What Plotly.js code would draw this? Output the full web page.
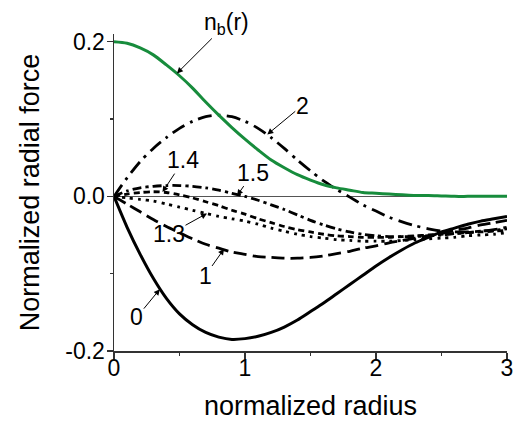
<!DOCTYPE html>
<html>
<head>
<meta charset="utf-8">
<script src="https://cdn.plot.ly/plotly-3.0.1.min.js"></script>
<style>html,body{margin:0;padding:0;background:#fff;}#chart{width:515px;height:421px;}</style>
</head>
<body>
<div id="chart"></div>
<script>
// normalized radius
const radius = [0,0.1,0.2,0.3,0.4,0.5,0.6,0.7,0.8,0.9,1.0,1.1,1.2,1.3,1.4,1.5,1.6,1.7,1.8,1.9,2.0,2.1,2.2,2.3,2.4,2.5,2.6,2.7,2.8,2.9,3.0];
// beam density profile n_b(r)
const nb = [0.200,0.198,0.192,0.183,0.170,0.156,0.140,0.122,0.105,0.089,0.074,0.060,0.047,0.037,0.028,0.021,0.015,0.011,0.008,0.005,0.004,0.003,0.002,0.001,0.001,0.0005,0,0,0,0,0];
// normalized radial force for each parameter value
const f0 = [0,-0.040,-0.075,-0.106,-0.132,-0.152,-0.166,-0.176,-0.182,-0.185,-0.184,-0.181,-0.176,-0.169,-0.160,-0.149,-0.138,-0.126,-0.114,-0.102,-0.090,-0.079,-0.069,-0.060,-0.053,-0.046,-0.041,-0.036,-0.032,-0.029,-0.026];
const f1 = [0,-0.010,-0.020,-0.030,-0.039,-0.047,-0.055,-0.062,-0.067,-0.072,-0.075,-0.078,-0.079,-0.080,-0.080,-0.079,-0.077,-0.074,-0.071,-0.067,-0.064,-0.060,-0.057,-0.054,-0.051,-0.048,-0.044,-0.041,-0.037,-0.034,-0.031];
const f13 = [0,-0.002,-0.004,-0.006,-0.010,-0.014,-0.018,-0.022,-0.026,-0.029,-0.032,-0.036,-0.041,-0.045,-0.049,-0.052,-0.054,-0.056,-0.057,-0.058,-0.058,-0.058,-0.057,-0.056,-0.055,-0.054,-0.053,-0.051,-0.050,-0.049,-0.047];
const f14 = [0,0.003,0.005,0.006,0.005,0.002,-0.002,-0.007,-0.012,-0.018,-0.023,-0.029,-0.034,-0.039,-0.043,-0.046,-0.049,-0.051,-0.052,-0.053,-0.053,-0.053,-0.052,-0.051,-0.050,-0.049,-0.048,-0.047,-0.046,-0.045,-0.044];
const f15 = [0,0.007,0.011,0.013,0.014,0.014,0.013,0.011,0.008,0.004,0.000,-0.005,-0.011,-0.017,-0.024,-0.031,-0.037,-0.042,-0.046,-0.049,-0.051,-0.052,-0.052,-0.052,-0.051,-0.050,-0.048,-0.047,-0.045,-0.044,-0.042];
const f2 = [0,0.024,0.045,0.062,0.076,0.088,0.097,0.103,0.105,0.103,0.097,0.088,0.076,0.062,0.047,0.033,0.020,0.009,-0.001,-0.011,-0.019,-0.027,-0.033,-0.038,-0.042,-0.045,-0.046,-0.046,-0.045,-0.043,-0.040];

const xTickVals = [0,1,2,3];
const xTickText = ['0','1','2','3'];
const xMinorVals = [0.5,1.5,2.5];
const yTickVals = [-0.2,0,0.2];
const yTickText = ['-0.2','0.0','0.2'];
const yMinorVals = [-0.1,0.1];

// annotation labels: [text, tip x, tip y, label offset x(px), label offset y(px)]
const labels = [
  ['n<sub>b</sub>(r)', 0.48, 0.159, 50, -50],
  ['2', 1.17, 0.080, 35, -29],
  ['1.4', 0.37, 0.0055, 21, -32],
  ['1.5', 0.94, 0.001, 16, -23],
  ['1.3', 0.71, -0.022, -38, 21],
  ['1', 0.84, -0.068, -19, 27],
  ['0', 0.35, -0.120, -23, 28]
];

const FONT = 'Liberation Sans, Arial, sans-serif';
function tr(y, dash, color, width) {
  return {x: radius, y: y, type: 'scatter', mode: 'lines',
    line: {color: color, width: width, dash: dash, shape: 'spline', smoothing: 0.8},
    hoverinfo: 'skip', showlegend: false};
}
const data = [
  tr(f0, 'solid', '#000', 3),
  tr(f1, '13px,6px', '#000', 2.8),
  tr(f13, '3px,5px', '#000', 2.8),
  tr(f14, '6px,4px', '#000', 2.8),
  tr(f15, '9px,4px,3px,4px', '#000', 2.8),
  tr(f2, '14px,6px,3px,6px', '#000', 2.8),
  tr(nb, 'solid', '#178c3c', 3)
];

const annotations = labels.map(l => ({
  x: l[1], y: l[2], xref: 'x', yref: 'y', text: l[0],
  showarrow: true, ax: l[3], ay: l[4], axref: 'pixel', ayref: 'pixel',
  arrowhead: 2, arrowsize: 1.2, arrowwidth: 1, arrowcolor: '#000',
  font: {family: FONT, size: 23, color: '#000'}, borderpad: 0
}));

const layout = {
  width: 515, height: 421,
  margin: {l: 114, r: 8, t: 34, b: 70},
  paper_bgcolor: '#fff', plot_bgcolor: '#fff',
  font: {family: FONT, color: '#000'},
  xaxis: {
    range: [0, 3], showgrid: false, zeroline: false,
    showline: true, linecolor: '#333', linewidth: 1.5,
    tickmode: 'array', tickvals: xTickVals, ticktext: xTickText,
    ticks: 'outside', ticklen: 6, tickwidth: 1.5, tickcolor: '#333',
    ticklabelstandoff: -10,
    minor: {tickmode: 'array', tickvals: xMinorVals, ticks: 'outside', ticklen: 3, tickwidth: 1.5, tickcolor: '#333', showgrid: false},
    tickfont: {family: FONT, size: 23, color: '#000'},
    title: {text: 'normalized radius', font: {family: FONT, size: 27, color: '#000'}, standoff: 20},
    automargin: false
  },
  yaxis: {
    range: [-0.2, 0.21], showgrid: false,
    zeroline: true, zerolinecolor: '#555', zerolinewidth: 1,
    showline: true, linecolor: '#333', linewidth: 1.5,
    tickmode: 'array', tickvals: yTickVals, ticktext: yTickText,
    ticks: 'outside', ticklen: 6, tickwidth: 1.5, tickcolor: '#333',
    ticklabelstandoff: -3,
    minor: {tickmode: 'array', tickvals: yMinorVals, ticks: 'outside', ticklen: 3, tickwidth: 1.5, tickcolor: '#333', showgrid: false},
    tickfont: {family: FONT, size: 23, color: '#000'},
    title: {text: 'Normalized radial force', font: {family: FONT, size: 27, color: '#000'}, standoff: 18},
    automargin: false
  },
  annotations: annotations
};
Plotly.newPlot('chart', data, layout, {staticPlot: true, displayModeBar: false});
</script>
</body>
</html>
